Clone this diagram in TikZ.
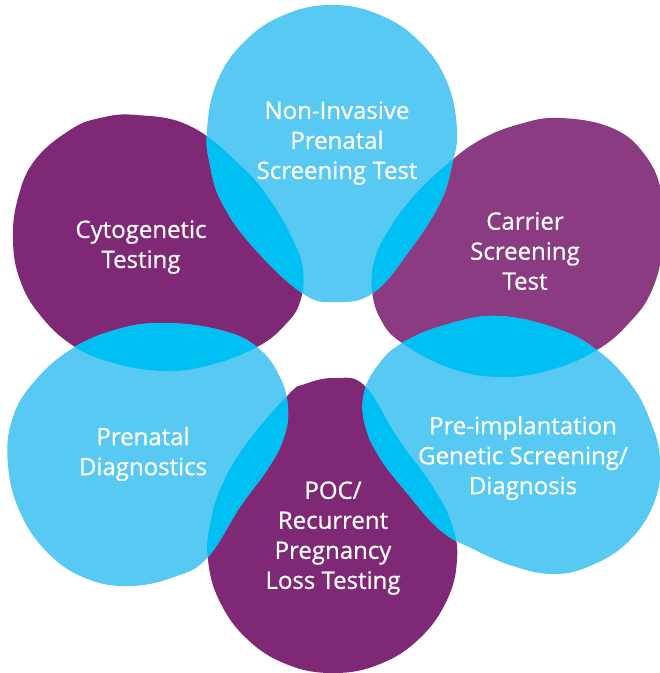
\documentclass[tikz,border=0pt]{standalone}
\usepackage{fontspec}
\setmainfont{Open Sans}
\newfontfamily\lblfont{Open Sans}[FakeBold=0.7]
\definecolor{lblue}{HTML}{57C9F3}
\definecolor{ovcyan}{HTML}{00C0F3}
\definecolor{purp}{HTML}{7E2876}
\definecolor{purpl}{HTML}{8A3B82}
\def\blobNIPT{plot[smooth cycle,tension=0.7] coordinates {(332,5) (380,15) (420,42) (447,82) (457,130) (452,165) (440,203) (410,250) (373,293) (335,302) (302,293) (253,247) (222,203) (210,165) (207,130) (217,82) (244,42) (284,15)}}
\def\blobCyto{plot[smooth cycle,tension=0.7] coordinates {(137,115) (190,126) (240,165) (270,200) (293,240) (303,270) (300,302) (285,325) (257,347) (210,365) (163,371) (110,362) (72,345) (40,315) (20,280) (13,240) (18,198) (35,160) (70,130) (100,118)}}
\def\blobCarr{plot[smooth cycle,tension=0.7] coordinates {(560,118) (612,128) (645,155) (662,195) (663,245) (652,290) (630,322) (597,350) (550,370) (500,377) (450,368) (402,343) (381,320) (372,290) (375,258) (390,228) (413,197) (445,166) (480,140) (520,124)}}
\def\blobPGS{plot[smooth cycle,tension=0.7] coordinates {(497,316) (555,328) (597,350) (630,383) (650,420) (660,460) (654,503) (628,542) (590,566) (553,574) (513,566) (473,549) (440,530) (407,493) (380,458) (365,425) (364,393) (378,365) (402,343) (445,325)}}
\def\blobPOC{plot[smooth cycle,tension=0.7] coordinates {(335,378) (365,386) (397,437) (433,487) (452,525) (457,560) (447,600) (420,638) (380,664) (333,673) (286,664) (246,638) (219,600) (208,560) (210,525) (222,485) (247,443) (288,395) (305,384)}}
\def\blobPD{plot[smooth cycle,tension=0.7] coordinates {(163,323) (220,330) (257,347) (280,377) (288,410) (283,440) (267,470) (240,507) (208,557) (177,576) (130,586) (85,578) (47,552) (20,512) (8,465) (12,420) (33,383) (70,350) (115,330)}}
\tikzset{lbl/.style={text=white, align=center, font=\lblfont\fontsize{24}{30}\selectfont}}
\begin{document}
\begin{tikzpicture}[x=1pt,y=-1pt]
\useasboundingbox (0,0) rectangle (660,673);
\begin{scope}
\clip (0,0) rectangle (660,673);
\fill[purp] \blobCyto;
\fill[purpl] \blobCarr;
\fill[purp] \blobPOC;
\fill[lblue] \blobNIPT;
\fill[lblue] \blobPGS;
\fill[lblue] \blobPD;
\begin{scope}
\clip \blobNIPT;
\fill[ovcyan] \blobCyto;
\fill[ovcyan] \blobCarr;
\end{scope}
\begin{scope}
\clip \blobPGS;
\fill[ovcyan] \blobCarr;
\fill[ovcyan] \blobPOC;
\end{scope}
\begin{scope}
\clip \blobPD;
\fill[ovcyan] \blobPOC;
\fill[ovcyan] \blobCyto;
\end{scope}
\end{scope}
\node[lbl] (nipt) at (337,143) {Non-Invasive\\Prenatal\\Screening Test};
\node[lbl] (cyto) at (141,247) {Cytogenetic\\Testing};
\node[lbl] (carr) at (525,251) {Carrier\\Screening\\Test};
\node[lbl] (pd) at (143,454) {Prenatal\\Diagnostics};
\node[lbl] (poc) at (333,538) {POC/\\Recurrent\\Pregnancy\\Loss Testing};
\node[lbl] (pgs) at (523,458) {Pre-implantation\\Genetic Screening/\\Diagnosis};
\end{tikzpicture}
\end{document}
